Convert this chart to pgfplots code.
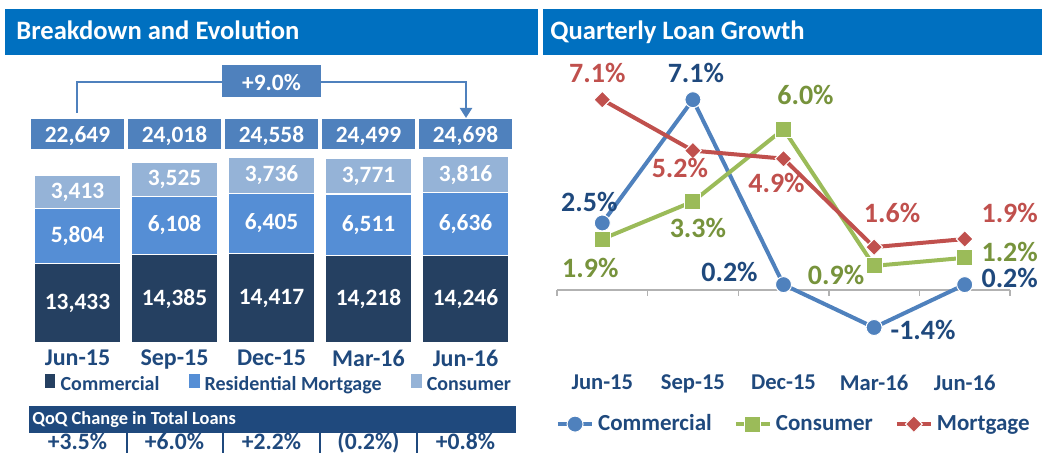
\documentclass[border=0pt]{standalone}
\usepackage{pgfplots}
\pgfplotsset{compat=1.18}
\usepackage{pgfplotstable}
\usetikzlibrary{arrows.meta}
\usepackage{fontspec}
\setmainfont{Carlito}
\newcommand\fs[1]{\fontsize{#1}{#1}\selectfont\bfseries}

\definecolor{hdr}{HTML}{0070C0}
\definecolor{mid}{HTML}{4F81BD}
\definecolor{navy}{HTML}{1F497D}
\definecolor{com}{HTML}{254061}
\definecolor{res}{HTML}{558ED5}
\definecolor{con}{HTML}{95B3D7}
\definecolor{lgreen}{HTML}{9BBB59}
\definecolor{dgreen}{HTML}{77933C}
\definecolor{lred}{HTML}{C0504D}

% loan balances by quarter
\pgfplotstableread{
x com res con
0 13433 5804 3413
1 14385 6108 3525
2 14417 6405 3736
3 14218 6511 3771
4 14246 6636 3816
}\loans

% quarterly growth, label offsets in px
\pgfplotstableread{
x y dx dy
0 2.5 -13 -21
1 7.1 3 -27
2 0.2 -54 -13
3 -1.4 49 2
4 0.2 45 -7
}\gcom
\pgfplotstableread{
x y dx dy
0 1.9 -12 29
1 3.3 5 26
2 6.0 22 -34
3 0.9 -38 9
4 1.2 45 -6
}\gcon
\pgfplotstableread{
x y dx dy
0 7.1 -5 -27
1 5.2 -13 17
2 4.9 -7 24
3 1.6 18 -34
4 1.9 45 -26
}\gmor

\begin{document}
\begin{tikzpicture}
\begin{scope}[x=0.5pt,y=-0.5pt]
  \coordinate (barLL) at (29,343);
  \coordinate (lineLL) at (557,367.7);
  % headers
  \fill[hdr] (5,9) rectangle (538,55);
  \node[anchor=base west,text=white,font=\fs{13.3},inner sep=0pt] at (16,40) {Breakdown and Evolution};
  \fill[hdr] (543,9) rectangle (1042,55);
  \node[anchor=base west,text=white,font=\fs{13.3},inner sep=0pt] at (550,40) {Quarterly Loan Growth};
  % growth arrow
  \draw[mid,line width=1.1pt,-{Triangle[width=6pt,length=5pt]}] (77,113) -- (77,82) -- (466,82) -- (466,118);
  \fill[mid] (222,65) rectangle (321,97);
  \node[anchor=base,text=white,font=\fs{11.7},inner sep=0pt] at (271.5,91) {+9.0\%};
  % totals
  \foreach \i/\v in {0/{22,649},1/{24,018},2/{24,558},3/{24,499},4/{24,698}}{
    \fill[mid] ({77.5+97*\i-46.5},119) rectangle ({77.5+97*\i+46.5},149);
    \node[anchor=base,text=white,font=\fs{11.7},inner sep=0pt] at ({77.5+97*\i},143) {\v};
  }
  % QoQ table
  \fill[navy] (29,406) rectangle (516,433);
  \node[anchor=west,text=white,font=\fs{9.2},inner sep=0pt] at (32,419.5) {QoQ Change in Total Loans};
  \foreach \xx in {127,223,320,417}{
    \draw[navy,line width=1pt] (\xx,433) -- (\xx,453);
  }
  \foreach \i/\v in {0/{+3.5\%},1/{+6.0\%},2/{+2.2\%},3/{(0.2\%)},4/{+0.8\%}}{
    \node[anchor=base,text=navy,font=\fs{11.8},inner sep=0pt] at ({77.5+97*\i},449) {\v};
  }
\end{scope}

\begin{axis}[
  at={(barLL)}, anchor=south west, scale only axis,
  width=242.5pt, height=94.7pt,
  xmin=-0.5, xmax=4.5, ymin=5000, ymax=25000,
  ybar stacked, bar width=43pt,
  axis line style={draw=none}, major tick length=0pt,
  ytick=\empty, xtick={0,...,4},
  xticklabels={Jun-15,Sep-15,Dec-15,Mar-16,Jun-16},
  xticklabel style={font=\fs{12}, text=navy},
  point meta=explicit,
  nodes near coords={\pgfmathprintnumber{\pgfplotspointmeta}},
  every node near coord/.append style={font=\fs{11.7}, text=white, anchor=center,
    yshift={-(\seg)*0.004735}},
  ybar legend/.style={legend image code/.code={\fill[##1] (0pt,-2.4pt) rectangle (4.8pt,2.4pt);}},
  legend style={at={(0.516,-0.222)}, anchor=center, draw=none, fill=none,
    legend columns=3, font=\fs{10}, text=navy,
    /tikz/every even column/.append style={column sep=12pt}},
  /pgf/number format/.cd, 1000 sep={,}, assume math mode=true
]
% the first segment starts below ymin, so its label is lifted into the visible part
\addplot[fill=com, draw=white, line width=0.6pt,
  visualization depends on={-2500 \as \seg}]
  table[x=x, y=com, meta=com] {\loans};
\addlegendentry{Commercial}
\addplot[fill=res, draw=white, line width=0.6pt,
  visualization depends on={0 \as \seg}]
  table[x=x, y=res, meta=res] {\loans};
\addlegendentry{Residential Mortgage}
\addplot[fill=con, draw=white, line width=0.6pt,
  visualization depends on={0 \as \seg}]
  table[x=x, y=con, meta=con] {\loans};
\addlegendentry{Consumer}
\end{axis}

\begin{axis}[
  at={(lineLL)}, anchor=south west, scale only axis,
  width=226.5pt, height=154.1pt,
  xmin=-0.5, xmax=4.5, ymin=-2.9, ymax=8.6,
  axis line style={draw=none}, major tick length=0pt,
  ytick=\empty, xtick={0,...,4},
  xticklabels={Jun-15,Sep-15,Dec-15,Mar-16,Jun-16},
  xticklabel style={font=\fs{11.3}, text=navy},
  clip=false,
  point meta=y,
  visualization depends on={\thisrow{dx} \as \dx},
  visualization depends on={\thisrow{dy} \as \dy},
  nodes near coords={\pgfmathprintnumber[fixed,fixed zerofill,precision=1]{\pgfplotspointmeta}\%},
  every node near coord/.append style={font=\fs{14}, anchor=center,
    xshift={0.5*(\dx)}, yshift={-0.5*(\dy)}},
  legend style={at={(0.525,-0.183)}, anchor=center, draw=none, fill=none,
    legend columns=3, font=\fs{11.5}, text=navy,
    /tikz/every even column/.append style={column sep=9pt}},
  /pgf/number format/assume math mode=true
]
\draw[gray!60, line width=0.7pt] (axis cs:-0.5,0) -- (axis cs:4.5,0);
\draw[gray!60, line width=0.7pt] (axis cs:-0.5,0) -- ++(0pt,-3pt);
\draw[gray!60, line width=0.7pt] (axis cs:0.5,0) -- ++(0pt,-3pt);
\draw[gray!60, line width=0.7pt] (axis cs:1.5,0) -- ++(0pt,-3pt);
\draw[gray!60, line width=0.7pt] (axis cs:2.5,0) -- ++(0pt,-3pt);
\draw[gray!60, line width=0.7pt] (axis cs:3.5,0) -- ++(0pt,-3pt);
\draw[gray!60, line width=0.7pt] (axis cs:4.5,0) -- ++(0pt,-3pt);
\addplot[mid, line width=2pt, mark=*, mark size=4pt, mark options={fill=mid, draw=white, line width=0.5pt},
  every node near coord/.append style={text=navy}]
  table[x=x, y=y] {\gcom};
\addlegendentry{Commercial}
\addplot[lgreen, line width=2pt, mark=square*, mark size=4pt, mark options={fill=lgreen, draw=white, line width=0.5pt},
  every node near coord/.append style={text=dgreen}]
  table[x=x, y=y] {\gcon};
\addlegendentry{Consumer}
\addplot[lred, line width=2pt, mark=square*, mark size=2.95pt, mark options={fill=lred, draw=white, line width=0.5pt, rotate=45},
  every node near coord/.append style={text=lred}]
  table[x=x, y=y] {\gmor};
\addlegendentry{Mortgage}
\end{axis}

\pgfresetboundingbox
\path[use as bounding box] (0pt,0pt) rectangle (521pt,-226.5pt);
\end{tikzpicture}
\end{document}
